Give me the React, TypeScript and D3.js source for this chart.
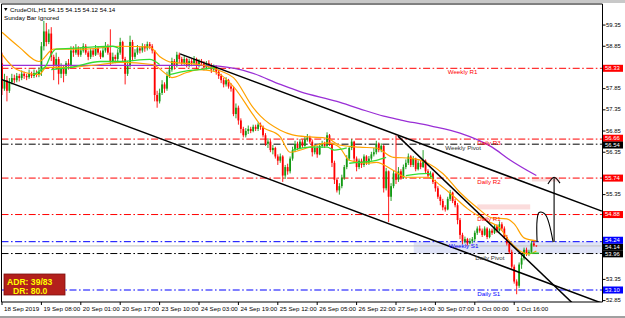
import React from 'react';
import * as d3 from 'd3';

const W = 625;
const H = 318;

const firstOpen = 58.45;
const closes = [
  57.85,58.05,57.80,58.00,58.10,58.05,58.15,58.10,58.20,58.15,
  58.12,58.20,58.15,58.22,58.18,58.25,58.85,59.20,58.95,59.15,
  58.60,58.40,58.55,58.20,58.35,58.20,58.45,58.40,58.75,58.70,
  58.80,58.65,58.75,58.85,58.70,58.60,58.75,58.65,58.80,58.70,
  58.60,58.75,58.85,58.70,58.50,58.60,58.55,58.70,58.95,58.55,
  58.20,58.40,58.95,58.60,58.70,58.80,58.75,58.85,58.80,58.90,
  58.85,58.75,57.70,57.55,57.75,57.95,57.85,58.15,58.30,58.50,
  58.40,58.65,58.55,58.45,58.55,58.40,58.50,58.45,58.55,58.40,
  58.50,58.45,58.35,58.45,58.40,58.30,58.35,58.25,58.15,58.05,
  57.95,58.05,57.90,57.85,57.25,57.40,57.10,56.90,56.75,56.85,
  56.90,56.85,56.95,56.90,57.00,56.95,56.75,56.55,56.60,56.40,
  56.45,56.25,56.15,56.25,55.80,56.00,55.90,56.20,56.40,56.55,
  56.45,56.60,56.50,56.65,56.70,56.60,56.35,56.45,56.30,56.50,
  56.55,56.50,56.75,56.55,56.10,55.70,55.45,55.55,55.75,56.00,
  56.20,56.45,56.60,56.20,56.00,56.15,56.05,56.25,56.10,56.20,
  56.30,56.35,56.55,56.40,56.50,55.50,55.90,55.30,55.55,55.85,
  55.70,55.90,55.75,56.00,56.10,56.25,56.05,56.20,55.95,56.10,
  56.00,56.15,55.90,55.80,55.85,55.65,55.50,55.30,55.20,55.05,
  55.00,55.25,55.40,55.20,55.10,54.75,54.40,54.25,54.30,54.20,
  54.25,54.30,54.45,54.55,54.50,54.40,54.55,54.35,54.50,54.45,
  54.60,54.50,54.65,54.55,54.35,54.20,54.00,53.65,53.30,53.20,
  53.70,53.85,54.05,53.95,54.00,54.20,54.15,54.14,
];
const highs = [
  58.70,58.20,58.15,58.10,58.20,58.18,58.22,58.20,58.28,58.25,
  58.20,58.30,58.25,58.30,58.28,58.35,58.95,59.45,59.40,59.25,
  59.30,58.65,58.70,58.60,58.45,58.40,58.50,58.55,58.85,58.85,
  58.90,58.85,58.82,58.92,58.90,58.75,58.80,58.80,58.88,58.85,
  58.75,58.82,58.95,58.90,59.25,58.70,58.65,58.78,59.05,58.98,
  58.60,58.50,59.10,59.00,58.78,58.88,58.85,58.92,58.90,58.96,
  58.95,58.90,58.75,57.80,57.85,58.05,58.00,58.25,58.40,58.58,
  58.55,58.72,58.70,58.60,58.62,58.58,58.56,58.55,58.62,58.58,
  58.55,58.55,58.50,58.50,58.52,58.45,58.42,58.40,58.30,58.20,
  58.10,58.12,58.08,57.98,57.90,57.50,57.45,57.15,56.95,56.92,
  56.98,56.95,57.00,57.00,57.05,57.05,56.98,56.80,56.68,56.65,
  56.52,56.48,56.30,56.32,56.28,56.05,56.08,56.25,56.48,56.62,
  56.60,56.66,56.65,56.72,56.78,56.74,56.65,56.52,56.50,56.56,
  56.62,56.60,56.82,56.78,56.58,56.15,55.75,55.62,55.82,56.05,
  56.28,56.50,56.66,56.62,56.25,56.20,56.20,56.30,56.28,56.26,
  56.36,56.45,56.62,56.58,56.56,56.52,55.98,55.92,55.62,55.92,
  56.75,56.00,55.95,56.06,56.18,56.32,56.28,56.26,56.22,56.16,
  56.15,56.40,56.18,55.95,55.90,55.88,55.70,55.55,55.35,55.25,
  55.10,55.30,55.46,55.42,55.25,55.15,54.80,54.45,54.36,54.33,
  54.32,54.35,54.50,54.60,54.62,54.55,54.60,54.58,54.55,54.55,
  54.65,54.65,54.72,54.70,54.60,54.40,54.25,54.05,53.70,53.35,
  53.75,53.92,54.10,54.10,54.05,54.26,54.28,54.15,
];
const lows = [
  57.70,57.80,57.55,57.75,57.95,57.98,58.00,58.02,58.05,58.08,
  58.05,58.08,58.10,58.10,58.12,58.12,58.15,58.75,58.85,58.90,
  58.50,58.05,58.30,57.95,58.10,58.00,58.15,58.30,58.35,58.60,
  58.65,58.60,58.60,58.70,58.65,58.52,58.55,58.60,58.62,58.65,
  58.55,58.58,58.70,58.65,58.40,58.45,58.45,58.50,58.65,58.50,
  57.95,58.15,58.35,58.50,58.55,58.65,58.68,58.70,58.72,58.75,
  58.78,58.68,57.55,57.40,57.50,57.70,57.75,57.80,58.10,58.25,
  58.30,58.35,58.45,58.40,58.40,58.35,58.35,58.38,58.40,58.32,
  58.35,58.40,58.28,58.30,58.32,58.22,58.25,58.18,58.08,57.98,
  57.88,57.90,57.85,57.78,57.20,57.15,57.00,56.80,56.70,56.70,
  56.78,56.80,56.82,56.85,56.85,56.88,56.70,56.50,56.45,56.35,
  56.30,56.20,56.05,56.10,55.65,55.72,55.82,55.85,56.15,56.35,
  56.40,56.42,56.45,56.48,56.60,56.55,56.25,56.30,56.22,56.28,
  56.45,56.45,56.48,56.50,56.00,55.60,55.40,55.35,55.50,55.70,
  55.95,56.15,56.40,56.10,55.90,55.95,55.98,56.00,56.05,56.05,
  56.15,56.25,56.30,56.35,56.35,55.40,55.45,54.70,55.20,55.50,
  55.60,55.65,55.70,55.72,55.95,56.05,56.00,56.00,55.90,55.92,
  55.95,55.98,55.85,55.75,55.72,55.60,55.42,55.25,55.10,54.98,
  54.95,54.98,55.20,55.15,55.05,54.65,54.30,54.18,54.20,54.15,
  54.18,54.20,54.25,54.40,54.45,54.35,54.38,54.30,54.32,54.40,
  54.42,54.45,54.48,54.50,54.30,54.15,53.95,53.60,53.25,53.00,
  53.15,53.60,53.80,53.90,53.90,53.95,54.12,54.12,
];

const timeLabels = [
  '18 Sep 2019','19 Sep 08:00','20 Sep 01:00','20 Sep 17:00','23 Sep 10:00',
  '24 Sep 03:00','24 Sep 19:00','25 Sep 12:00','26 Sep 05:00','26 Sep 22:00',
  '27 Sep 14:00','30 Sep 07:00','1 Oct 00:00','1 Oct 16:00',
];
const timeLabelBars = [0,16,32,48,64,80,96,112,128,144,160,176,192,208];

const priceTicks = [59.35,58.85,57.85,57.35,56.85,56.35,55.35,54.35,53.35,52.85];

const levelValues = [58.33,56.66,56.54,55.74,54.88,54.24,53.96,53.10];
const levelNames = ['Weekly R1','Daily R3','Weekly Pivot','Daily R2','Daily R1','Weekly S1','Daily Pivot','Daily S1'];
const levelColors = ['#ff0000','#ff0000','#000000','#ff0000','#ff0000','#0000ff','#000000','#0000ff'];
const levelTextColors = ['#ff0000','#ff0000','#303030','#ff0000','#ff0000','#0000ff','#303030','#0000ff'];
const levelLabelBars = [181,193,180,193,193,181.5,192.2,193];
const levelBoxColors = ['#ff0000','#ff0000','#000000','#ff0000','#ff0000','#0000ff','#000000','#0000ff'];

const bidPrice = 54.14;

const purpleMA: [number, number][] = [
  [0,58.40],[40,58.40],[80,58.40],[88,58.38],[101,58.23],[113,57.95],[121,57.78],
  [136,57.55],[145,57.38],[155,57.20],[162,57.11],[174,56.97],[186,56.80],
  [199,56.47],[206,56.18],[217,55.80],
];
const orangeSlow: [number, number][] = [
  [0,59.18],[7,58.83],[15,58.49],[21,58.78],[33,58.78],[48,58.85],[60,58.83],
  [64,58.61],[69,58.47],[80,58.42],[89,58.26],[94,58.11],[102,57.40],[105,57.20],
  [113,56.87],[118,56.76],[125,56.71],[132,56.68],[137,56.52],[145,56.47],
  [152,56.45],[159,56.23],[166,56.21],[173,56.09],[179,55.85],[186,55.40],
  [193,55.04],[199,54.80],[205,54.78],[208,54.66],[212,54.33],[217,54.26],
];
const orangeFast: [number, number][] = [
  [0,58.66],[6,58.30],[15,58.18],[18,58.35],[26,58.35],[40,58.42],[48,58.47],
  [61,58.42],[67,58.18],[69,58.11],[75,58.23],[80,58.30],[86,58.26],[94,57.90],
  [102,57.23],[105,56.99],[113,56.71],[117,56.35],[125,56.47],[132,56.57],
  [137,56.47],[141,56.16],[148,56.09],[152,56.11],[159,55.92],[164,55.76],
  [173,55.76],[178,55.57],[183,55.33],[189,55.02],[197,54.73],[202,54.57],
  [206,54.26],[212,53.97],[214,53.95],[217,54.02],
];
const greenSegments: [number, number][][] = [
  [[13,58.18],[15,58.26],[18,58.40],[20,58.66],[22,58.78],[28,58.80],[36,58.83],[45,58.85],[48,58.78]],
  [[20,58.30],[28,58.35],[40,58.49],[48,58.49],[60,58.54],[64,58.42]],
  [[68,58.18],[74,58.26],[80,58.30],[87,58.35]],
  [[118,56.40],[125,56.47],[132,56.47],[135,56.40],[140,56.45]],
  [[141,56.09],[145,56.11],[152,56.16],[156,56.23]],
  [[164,55.80],[173,55.85],[175,55.73]],
  [[214,53.97],[218,53.97]],
];

const trendLines: [number, number][][] = [
  [[72.3,58.67],[243.6,54.96]],
  [[-0.8,58.08],[243.6,52.79]],
  [[160.8,56.73],[236,52.55]],
];

const arrowCurve: [number, number][] = [[217.3,54.23],[217.3,54.75],[218.1,54.93],[220.5,54.89],[223.8,54.23]];
const arrowShaft: [number, number][] = [[224.2,54.23],[224.2,55.76]];
const arrowHead: [number, number][] = [[221.7,55.60],[224.2,55.76],[226.6,55.62]];

const zones = [
  { b0: 167.2, b1: 244, p0: 54.24, p1: 53.96, fill: '#dfe3f7' },
  { b0: 193, b1: 214.5, p0: 55.12, p1: 55.0, fill: '#fbdcdc' },
  { b0: 215.2, b1: 226.6, p0: 55.76, p1: 55.66, fill: '#fbdcdc' },
  { b0: 193, b1: 214.5, p0: 52.86, p1: 52.80, fill: '#dfe3f7' },
];

const titleText = 'CrudeOIL,H1  54.15 54.15 54.12 54.14';
const subTitle = 'Sunday Bar Ignored';
const adrLine1 = 'ADR: 39/83';
const adrLine2 = 'DR: 80.0';

const FONT = '"Liberation Sans", Arial, sans-serif';

type AxisLabel = { v: number; box: string | null; y: number; order: number };

function spread(items: AxisLabel[], gap: number) {
  const sorted = [...items].sort((a, b) => a.y - b.y);
  for (let pass = 0; pass < 60; pass++) {
    let moved = false;
    for (let i = 1; i < sorted.length; i++) {
      const d = gap - (sorted[i].y - sorted[i - 1].y);
      if (d > 0.01) {
        sorted[i - 1].y -= d / 2;
        sorted[i].y += d / 2;
        moved = true;
      }
    }
    if (!moved) break;
  }
  return items;
}

export default function App() {
  const plotL = 1.5, plotR = 602.5, plotT = 4, plotB = 302;
  const xs = d3.scaleLinear().domain([0, 217]).range([2, 2 + 217 * 2.4625]);
  const ys = d3.scaleLinear().domain([53.10, 58.33]).range([290, 68.3]);
  const line = d3.line<[number, number]>().x(d => xs(d[0])).y(d => ys(d[1]));
  const smooth = d3.line<[number, number]>().x(d => xs(d[0])).y(d => ys(d[1])).curve(d3.curveMonotoneX);
  const curve = d3.line<[number, number]>().x(d => xs(d[0])).y(d => ys(d[1])).curve(d3.curveCatmullRom);

  const candles = closes.map((c, i) => {
    const o = i === 0 ? firstOpen : closes[i - 1];
    const up = c >= o;
    const col = up ? '#139a13' : '#ff0000';
    const x = xs(i);
    const yTop = ys(Math.max(o, c));
    const yBot = ys(Math.min(o, c));
    return (
      <g key={i}>
        <line x1={x} x2={x} y1={ys(highs[i])} y2={ys(lows[i])} stroke={col} strokeWidth={0.9} />
        <rect x={x - 0.9} y={yTop} width={1.8} height={Math.max(0.8, yBot - yTop)} fill={col} />
      </g>
    );
  });

  const dash = '7 2.5 1.6 2.5';

  // right axis labels: regular ticks that are not hidden by a coloured box, plus the boxes
  const boxList = [{ v: bidPrice, c: '#000000' }, ...levelValues.map((v, i) => ({ v, c: levelBoxColors[i] }))];
  const visibleTicks = priceTicks.filter(t => !boxList.some(b => Math.abs(ys(b.v) - ys(t)) < 5));
  const axisLabels: AxisLabel[] = [
    ...visibleTicks.map((v, k) => ({ v, box: null, y: ys(v), order: k })),
    ...boxList.map((b, k) => ({ v: b.v, box: b.c, y: ys(b.v), order: 100 + k })),
  ];
  spread(axisLabels, 6.8);

  return (
    <svg width={W} height={H} style={{ position: 'absolute', left: 0, top: 0, background: '#fff' }} fontFamily={FONT}>
      <defs>
        <clipPath id="plot">
          <rect x={plotL} y={plotT} width={plotR - plotL} height={plotB - plotT} />
        </clipPath>
      </defs>
      <rect x={0} y={0} width={W} height={3} fill="#c8c8c8" />
      <rect x={0} y={316} width={W} height={2} fill="#a0a0a0" />

      <g clipPath="url(#plot)">
        {zones.map((z, i) => (
          <rect key={i} x={xs(z.b0)} y={ys(z.p0)} width={xs(z.b1) - xs(z.b0)} height={ys(z.p1) - ys(z.p0)} fill={z.fill} />
        ))}
        <line x1={plotL} x2={plotR} y1={ys(bidPrice)} y2={ys(bidPrice)} stroke="#c0c0c0" strokeWidth={1} />
        {levelValues.map((v, i) => (
          <line key={i} x1={plotL} x2={plotR} y1={ys(v)} y2={ys(v)} stroke={levelColors[i]} strokeWidth={1} strokeDasharray={dash} />
        ))}

        {candles}

        <path d={smooth(purpleMA) || ''} fill="none" stroke="#9a2fd6" strokeWidth={1.3} />
        <path d={smooth(orangeSlow) || ''} fill="none" stroke="#ffa200" strokeWidth={1.2} />
        <path d={smooth(orangeFast) || ''} fill="none" stroke="#ffa200" strokeWidth={1.2} />
        {greenSegments.map((s, i) => (
          <path key={i} d={smooth(s) || ''} fill="none" stroke="#33dd33" strokeWidth={1.3} />
        ))}

        {trendLines.map((t, i) => (
          <path key={i} d={line(t) || ''} fill="none" stroke="#000" strokeWidth={1.5} />
        ))}

        <path d={curve(arrowCurve) || ''} fill="none" stroke="#000" strokeWidth={1.1} />
        <path d={line(arrowShaft) || ''} fill="none" stroke="#000" strokeWidth={1.1} />
        <path d={smooth(arrowHead) || ''} fill="none" stroke="#000" strokeWidth={1.1} />

        {levelValues.map((v, i) => (
          <text key={i} x={xs(levelLabelBars[i])} y={ys(v) + 4.5} fontSize={6.2} fill={levelTextColors[i]} dominantBaseline="middle">
            {levelNames[i]}
          </text>
        ))}

        <rect x={4} y={274} width={61} height={21} fill="#b3201c" stroke="#7a0f0f" strokeWidth={0.8} />
        <text x={7} y={283} fontSize={8.6} fontWeight="bold" fill="#ffff00" dominantBaseline="middle">{adrLine1}</text>
        <text x={13} y={291.5} fontSize={8.6} fontWeight="bold" fill="#ffff00" dominantBaseline="middle">{adrLine2}</text>
      </g>

      <line x1={plotL} x2={plotL} y1={plotT} y2={plotB} stroke="#000" strokeWidth={1} />
      <line x1={plotL} x2={plotR} y1={plotT} y2={plotT} stroke="#000" strokeWidth={1} />
      <line x1={plotR} x2={plotR} y1={plotT} y2={plotB} stroke="#000" strokeWidth={1} />
      <line x1={plotL} x2={plotR} y1={plotB} y2={plotB} stroke="#000" strokeWidth={1} />

      <path d="M4,8 L7.5,8 L5.75,11 Z" fill="#000" />
      <text x={10} y={10} fontSize={6.2} fill="#000" dominantBaseline="middle">{titleText}</text>
      <text x={4} y={18} fontSize={6.2} fill="#000" dominantBaseline="middle">{subTitle}</text>

      {axisLabels.filter(a => a.box === null).map((a, i) => (
        <g key={'t' + i}>
          {ys(a.v) <= plotB && (
            <line x1={plotR} x2={plotR + 3} y1={ys(a.v)} y2={ys(a.v)} stroke="#000" strokeWidth={1} />
          )}
          <text x={606} y={a.y} fontSize={5.9} fill="#000" dominantBaseline="middle">{a.v.toFixed(2)}</text>
        </g>
      ))}
      {axisLabels.filter(a => a.box !== null).sort((a, b) => a.order - b.order).map((a, i) => (
        <g key={'b' + i}>
          <rect x={603} y={a.y - 3.5} width={20} height={7} fill={a.box as string} />
          <text x={605} y={a.y + 0.3} fontSize={5.9} fill="#fff" dominantBaseline="middle">{a.v.toFixed(2)}</text>
        </g>
      ))}

      {timeLabelBars.map((b, i) => (
        <g key={i}>
          <line x1={xs(b)} x2={xs(b)} y1={plotB} y2={plotB + 3} stroke="#000" strokeWidth={1} />
          <text x={xs(b) + 2} y={309} fontSize={6.2} fill="#000" dominantBaseline="middle">{timeLabels[i]}</text>
        </g>
      ))}
    </svg>
  );
}
